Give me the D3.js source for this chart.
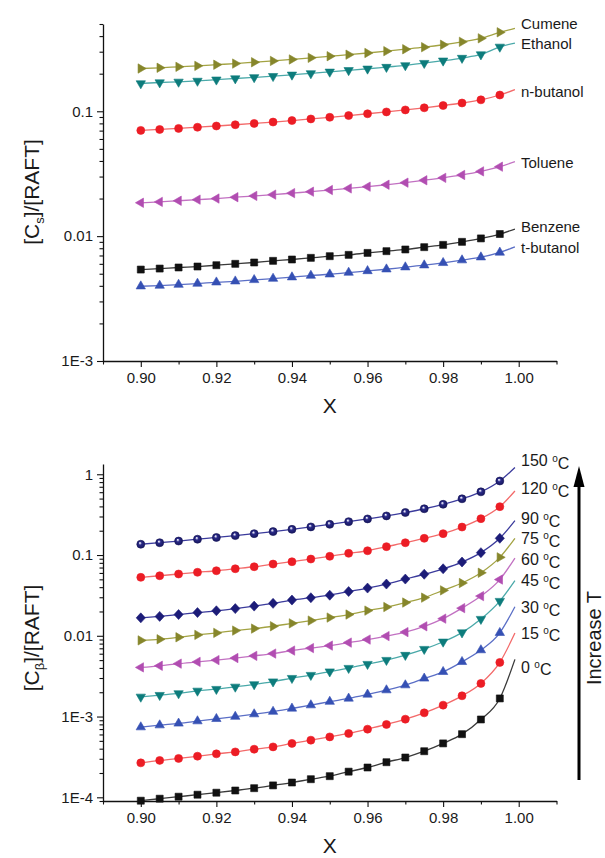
<!DOCTYPE html>
<html>
<head>
<meta charset="utf-8">
<script src="https://cdn.jsdelivr.net/npm/d3@7"></script>
<style>
  body { margin: 0; background: #fff; }
  svg { display: block; }
  text { font-family: "Liberation Sans", Arial, sans-serif; fill: #1a1a1a; }
</style>
</head>
<body>
<svg id="chart" width="605" height="858"></svg>
<script>
// ---- data -------------------------------------------------------------
// conversion values at which the model curves are sampled (markers)
const conversion = [0.900, 0.905, 0.910, 0.915, 0.920, 0.925, 0.930, 0.935, 0.940, 0.945,
                    0.950, 0.955, 0.960, 0.965, 0.970, 0.975, 0.980, 0.985, 0.990, 0.995];
// the fitted curves continue a little beyond the last marker
const curveEndX = 0.999;

// upper panel: solvent chain transfer, [Cs]/[RAFT]
const solventNames = ["Cumene", "Ethanol", "n-butanol", "Toluene", "Benzene", "t-butanol"];
const cumene   = [0.220, 0.223, 0.227, 0.231, 0.236, 0.241, 0.247, 0.253, 0.260, 0.268,
                  0.276, 0.284, 0.293, 0.303, 0.314, 0.326, 0.341, 0.360, 0.384, 0.429];
const ethanol  = [0.167, 0.170, 0.172, 0.175, 0.179, 0.183, 0.187, 0.191, 0.196, 0.201,
                  0.207, 0.213, 0.219, 0.226, 0.233, 0.243, 0.254, 0.267, 0.285, 0.328];
const nButanol = [0.0703, 0.0715, 0.0729, 0.0745, 0.0762, 0.0780, 0.0799, 0.0820, 0.0843, 0.0868,
                  0.0895, 0.0924, 0.0955, 0.0988, 0.1025, 0.1066, 0.1112, 0.1165, 0.1235, 0.135];
const toluene  = [0.0185, 0.0188, 0.0192, 0.0196, 0.0200, 0.0205, 0.0210, 0.0215, 0.0221, 0.0227,
                  0.0234, 0.0241, 0.0249, 0.0258, 0.0268, 0.0280, 0.0293, 0.0309, 0.0330, 0.0360];
const benzene  = [0.00540, 0.00550, 0.00561, 0.00571, 0.00585, 0.00600, 0.00615, 0.00634, 0.00650, 0.00670,
                  0.00691, 0.00708, 0.00734, 0.00758, 0.00782, 0.00816, 0.00851, 0.00900, 0.00959, 0.0104];
const tButanol = [0.00397, 0.00402, 0.00409, 0.00417, 0.00427, 0.00435, 0.00446, 0.00457, 0.00469, 0.00483,
                  0.00495, 0.00511, 0.00526, 0.00543, 0.00564, 0.00585, 0.00611, 0.00642, 0.00678, 0.0074];
const solventCurveEnd = [0.461, 0.352, 0.149, 0.0395, 0.0114, 0.0082];

// lower panel: beta-scission product, [Cβ]/[RAFT], by temperature
const temperatures = [150, 120, 90, 75, 60, 45, 30, 15, 0];
const t150 = [0.136, 0.142, 0.149, 0.157, 0.165, 0.174, 0.184, 0.195, 0.208, 0.223,
              0.240, 0.259, 0.280, 0.305, 0.336, 0.374, 0.425, 0.497, 0.606, 0.826];
const t120 = [0.0529, 0.0554, 0.0582, 0.0611, 0.0639, 0.0676, 0.0716, 0.0773, 0.0826, 0.0892,
              0.0964, 0.105, 0.113, 0.127, 0.142, 0.161, 0.184, 0.222, 0.282, 0.397];
const t90  = [0.01667, 0.01739, 0.01832, 0.01938, 0.0204, 0.0217, 0.0233, 0.0252, 0.0277, 0.0296,
              0.0318, 0.0353, 0.0390, 0.0437, 0.0504, 0.0578, 0.0676, 0.0819, 0.107, 0.161];
const t75  = [0.00877, 0.00905, 0.00958, 0.01026, 0.01086, 0.0116, 0.01228, 0.01312, 0.01425, 0.01543,
              0.01681, 0.01832, 0.0205, 0.0227, 0.0258, 0.0297, 0.0365, 0.0450, 0.0603, 0.0936];
const t60  = [0.00406, 0.00425, 0.00452, 0.00475, 0.00500, 0.00530, 0.00564, 0.00602, 0.00656, 0.00704,
              0.00756, 0.00824, 0.00898, 0.00991, 0.0111, 0.0131, 0.0163, 0.0220, 0.0310, 0.0497];
const t45  = [0.001754, 0.001841, 0.001932, 0.002081, 0.002186, 0.002333, 0.00250, 0.00271, 0.00299, 0.00326,
              0.00360, 0.00398, 0.00446, 0.00500, 0.00577, 0.00684, 0.00843, 0.01096, 0.0161, 0.0269];
const t30  = [0.000739, 0.000782, 0.000822, 0.000877, 0.000937, 0.000998, 0.001071, 0.00115, 0.00126, 0.001384,
              0.00153, 0.001676, 0.001878, 0.002123, 0.002448, 0.002965, 0.00358, 0.00476, 0.00665, 0.01089];
const t15  = [0.000267, 0.000286, 0.000303, 0.000323, 0.000345, 0.000365, 0.000394, 0.000421, 0.000465, 0.00051,
              0.00056, 0.000617, 0.000698, 0.000798, 0.000928, 0.001111, 0.001384, 0.001806, 0.00257, 0.00468];
const t0   = [9.08e-5, 9.61e-5, 1.017e-4, 1.077e-4, 1.14e-4, 1.214e-4, 1.297e-4, 1.404e-4, 1.524e-4, 1.675e-4,
              1.827e-4, 2.077e-4, 2.339e-4, 2.72e-4, 3.11e-4, 3.72e-4, 4.65e-4, 6.05e-4, 9.2e-4, 1.676e-3];
const tempCurveEnd = [1.21, 0.621, 0.266, 0.161, 0.0918, 0.0481, 0.0229, 0.0108, 0.0051];

// axis ticks
const xTicks = [0.90, 0.92, 0.94, 0.96, 0.98, 1.00];
const xTickLabels = ["0.90", "0.92", "0.94", "0.96", "0.98", "1.00"];
const topYTicks = [0.001, 0.01, 0.1];
const topYTickLabels = ["1E-3", "0.01", "0.1"];
const botYTicks = [1e-4, 1e-3, 0.01, 0.1, 1];
const botYTickLabels = ["1E-4", "1E-3", "0.01", "0.1", "1"];

// ---- styles -----------------------------------------------------------
const palette = {
  olive:   { fill: "#86862b", line: "#a3a343" },
  teal:    { fill: "#0d7c7c", line: "#4aa9a9" },
  red:     { fill: "#ec1d25", line: "#f36a6a" },
  magenta: { fill: "#b14db1", line: "#c271c2" },
  black:   { fill: "#111111", line: "#3a3a3a" },
  blue:    { fill: "#3550b4", line: "#5b6fc6" },
  navy:    { fill: "#1c1c78", line: "#3b3b9c" }
};

const solventSeries = [
  { name: solventNames[0], values: cumene,   end: solventCurveEnd[0], color: palette.olive,   shape: "right",  nudge: -4.5 },
  { name: solventNames[1], values: ethanol,  end: solventCurveEnd[1], color: palette.teal,    shape: "down",   nudge: 1 },
  { name: solventNames[2], values: nButanol, end: solventCurveEnd[2], color: palette.red,     shape: "circle", nudge: 2 },
  { name: solventNames[3], values: toluene,  end: solventCurveEnd[3], color: palette.magenta, shape: "left",   nudge: 1.5 },
  { name: solventNames[4], values: benzene,  end: solventCurveEnd[4], color: palette.black,   shape: "square", nudge: -2 },
  { name: solventNames[5], values: tButanol, end: solventCurveEnd[5], color: palette.blue,    shape: "up",     nudge: 1 }
];

const tempValues = [t150, t120, t90, t75, t60, t45, t30, t15, t0];
const tempStyle = [
  { color: palette.navy,    shape: "sphere",  nudge: -7 },
  { color: palette.red,     shape: "circle",  nudge: -2.5 },
  { color: palette.navy,    shape: "diamond", nudge: -2 },
  { color: palette.olive,   shape: "right",   nudge: 0 },
  { color: palette.magenta, shape: "left",    nudge: 1.3 },
  { color: palette.teal,    shape: "down",    nudge: 0 },
  { color: palette.blue,    shape: "up",      nudge: 1 },
  { color: palette.red,     shape: "circle",  nudge: 0 },
  { color: palette.black,   shape: "square",  nudge: 7.5 }
];
const tempSeries = temperatures.map((t, i) => ({
  temp: t, values: tempValues[i], end: tempCurveEnd[i], ...tempStyle[i]
}));

// ---- helpers ----------------------------------------------------------
function triangle(apexDeg, R) {
  const pts = [0, 120, 240].map(a => {
    const rad = (apexDeg + a) * Math.PI / 180;
    return [R * Math.cos(rad), R * Math.sin(rad)];
  });
  return "M" + pts.map(p => p[0].toFixed(2) + "," + p[1].toFixed(2)).join("L") + "Z";
}
function shapePath(kind) {
  const r = 4;
  switch (kind) {
    case "circle":
    case "sphere":  return `M${r},0A${r},${r} 0 1,1 ${-r},0A${r},${r} 0 1,1 ${r},0Z`;
    case "square":  return "M-3.5,-3.5H3.5V3.5H-3.5Z";
    case "diamond": return "M0,-5L4.6,0L0,5L-4.6,0Z";
    case "up":      return triangle(-90, 5.4);
    case "down":    return triangle(90, 5.4);
    case "right":   return triangle(0, 5.4);
    case "left":    return triangle(180, 5.4);
  }
}

const svg = d3.select("#chart");
const defs = svg.append("defs");
// shaded ball used for the 150 °C markers
const grad = defs.append("radialGradient").attr("id", "sphereFill")
  .attr("cx", "50%").attr("cy", "50%").attr("r", "55%")
  .attr("fx", "38%").attr("fy", "32%");
grad.append("stop").attr("offset", "0%").attr("stop-color", "#ffffff");
grad.append("stop").attr("offset", "14%").attr("stop-color", "#c8c8e6");
grad.append("stop").attr("offset", "38%").attr("stop-color", "#2a2a88");
grad.append("stop").attr("offset", "100%").attr("stop-color", "#15155a");

const x = d3.scaleLinear().domain([0.89, 1.01]).range([103, 556.5]);
const xMinor = d3.range(0.89, 1.0101, 0.02).map(v => +v.toFixed(2));

function logMinors(domain) {
  const out = [];
  const lo = Math.floor(Math.log10(domain[0])), hi = Math.ceil(Math.log10(domain[1]));
  for (let e = lo; e <= hi; e++) {
    for (let m = 2; m <= 9; m++) {
      const v = m * Math.pow(10, e);
      if (v >= domain[0] * 0.999 && v <= domain[1] * 1.001) out.push(v);
    }
  }
  return out;
}

function drawPanel(cfg) {
  const g = svg.append("g");
  const y = d3.scaleLog().domain(cfg.yDomain).range(cfg.yRange);
  const yBottom = cfg.yRange[0];

  // x axis
  g.append("g").attr("transform", `translate(0,${yBottom})`)
    .call(d3.axisBottom(x).tickValues(xTicks).tickSize(6).tickSizeOuter(0).tickPadding(5)
      .tickFormat((d, i) => xTickLabels[i]));
  g.append("g").attr("transform", `translate(0,${yBottom})`)
    .call(d3.axisBottom(x).tickValues(xMinor).tickSize(3.5).tickFormat(""))
    .select(".domain").remove();

  // y axis
  g.append("g").attr("transform", "translate(103,0)")
    .call(d3.axisLeft(y).tickValues(cfg.yTicks).tickSize(6).tickSizeOuter(0).tickPadding(4)
      .tickFormat((d, i) => cfg.yTickLabels[i]));
  g.append("g").attr("transform", "translate(103,0)")
    .call(d3.axisLeft(y).tickValues(logMinors(cfg.yDomain)).tickSize(3.5).tickFormat(""))
    .select(".domain").remove();

  g.selectAll(".domain").attr("stroke", "#111").attr("stroke-width", 1.3);
  g.selectAll(".tick line").attr("stroke", "#111").attr("stroke-width", 1.1);
  g.selectAll(".tick text").style("font-size", "15px").style("font-family", "'Liberation Sans', Arial, sans-serif")
    .attr("fill", "#1a1a1a");

  // axis titles
  g.append("text").attr("x", x(0.95)).attr("y", cfg.xTitleY)
    .attr("text-anchor", "middle").style("font-size", "21px").text("X");

  const yt = g.append("text")
    .attr("transform", `translate(39,${cfg.yTitleY}) rotate(-90)`)
    .attr("text-anchor", "middle").style("font-size", "21px");
  yt.append("tspan").text("[C");
  yt.append("tspan").attr("dy", 5).style("font-size", "13px").text(cfg.subscript);
  yt.append("tspan").attr("dy", -5).text("]/[RAFT]");

  // curves then markers
  const line = d3.line().x(d => x(d[0])).y(d => y(d[1])).curve(d3.curveMonotoneX);
  cfg.series.forEach(s => {
    const pts = conversion.map((c, i) => [c, s.values[i]]).concat([[curveEndX, s.end]]);
    g.append("path").datum(pts).attr("d", line)
      .attr("fill", "none").attr("stroke", s.color.line).attr("stroke-width", 1.3);
  });
  cfg.series.forEach(s => {
    g.append("g").selectAll("path").data(conversion.map((c, i) => [c, s.values[i]])).join("path")
      .attr("transform", d => `translate(${x(d[0])},${y(d[1])})`)
      .attr("d", shapePath(s.shape))
      .attr("fill", s.shape === "sphere" ? "url(#sphereFill)" : s.color.fill)
      .attr("stroke", s.shape === "sphere" ? "#15155a" : s.color.fill)
      .attr("stroke-width", 0.6);
  });

  // end labels
  cfg.series.forEach(s => {
    const t = g.append("text").attr("x", 521).attr("y", y(s.end) + s.nudge)
      .attr("dy", "0.35em").style("font-size", cfg.labelSize);
    cfg.label(t, s);
  });
  return y;
}

// upper panel
drawPanel({
  yDomain: [0.001, 0.5], yRange: [361, 24],
  yTicks: topYTicks, yTickLabels: topYTickLabels,
  xTitleY: 413, yTitleY: 192, subscript: "s",
  series: solventSeries, labelSize: "15px",
  label: (t, s) => t.text(s.name)
});

// lower panel
drawPanel({
  yDomain: [9e-5, 1.34], yRange: [801, 464],
  yTicks: botYTicks, yTickLabels: botYTickLabels,
  xTitleY: 853, yTitleY: 638, subscript: "β",
  series: tempSeries, labelSize: "16px",
  label: (t, s) => {
    t.append("tspan").text(s.temp + " ");
    t.append("tspan").attr("dy", "-0.45em").style("font-size", "10px").text("o");
    t.append("tspan").attr("dy", "0.45em").text("C");
  }
});

// "Increase T" arrow
const arrowX = 579;
svg.append("line").attr("x1", arrowX).attr("x2", arrowX).attr("y1", 484).attr("y2", 780)
  .attr("stroke", "#000").attr("stroke-width", 3);
svg.append("path").attr("d", `M${arrowX},466L${arrowX + 5.5},487L${arrowX - 5.5},487Z`).attr("fill", "#000");
svg.append("text").attr("transform", `translate(601,638) rotate(-90)`)
  .attr("text-anchor", "middle").style("font-size", "20px").text("Increase T");
</script>
</body>
</html>
